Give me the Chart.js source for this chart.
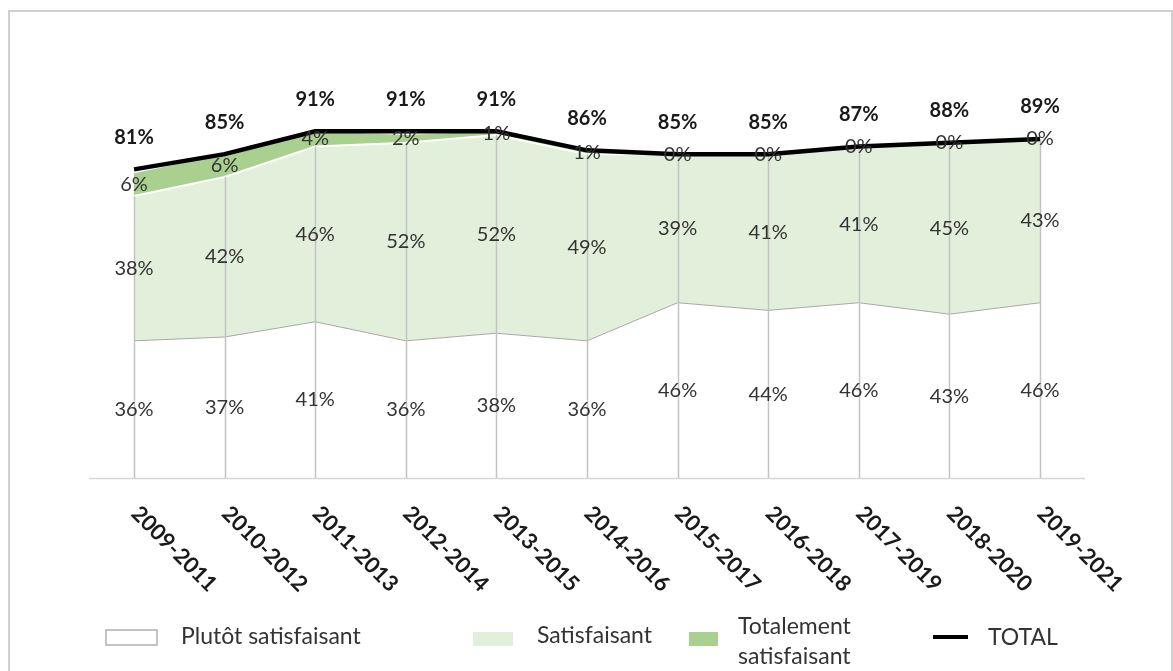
<!DOCTYPE html>
<html>
<head>
<meta charset="utf-8">
<script src="https://cdn.jsdelivr.net/npm/chart.js@4"></script>
<style>
  html, body { margin: 0; padding: 0; background: #fff; overflow: hidden; }
  canvas { display: block; }
</style>
</head>
<body>
<canvas id="satisfactionChart" width="1173" height="671"></canvas>
<script>
// Données
const periodes = ['2009-2011', '2010-2012', '2011-2013', '2012-2014', '2013-2015', '2014-2016',
                  '2015-2017', '2016-2018', '2017-2019', '2018-2020', '2019-2021'];
const plutotSatisfaisant = [36, 37, 41, 36, 38, 36, 46, 44, 46, 43, 46];
const satisfaisant = [38, 42, 46, 52, 52, 49, 39, 41, 41, 45, 43];
const totalementSatisfaisant = [6, 6, 4, 2, 1, 1, 0, 0, 0, 0, 0];
const total = [81, 85, 91, 91, 91, 86, 85, 85, 87, 88, 89];

const FONT = 'Lato, "Open Sans", sans-serif';

// lignes de rappel verticales, dessinées avant la courbe TOTAL
const dropLines = {
    id: 'dropLines',
    afterDatasetDraw(chart, args) {
        if (args.index !== 1) return;
        const ctx = chart.ctx, x = chart.scales.x, y = chart.scales.y;
        ctx.save();
        ctx.strokeStyle = '#c3c3c3';
        ctx.lineWidth = 1.5;
        periodes.forEach((p, i) => {
            const px = Math.round(x.getPixelForValue(i)) + 0.5;
            ctx.beginPath();
            ctx.moveTo(px, y.getPixelForValue(0));
            ctx.lineTo(px, y.getPixelForValue(plutotSatisfaisant[i] + satisfaisant[i]));
            ctx.stroke();
        });
        ctx.restore();
    }
};

const decor = {
    id: 'decor',
    beforeDraw(chart) {
        const ctx = chart.ctx;
        ctx.save();
        ctx.strokeStyle = '#d0d0d0';
        ctx.lineWidth = 2;
        ctx.strokeRect(9, 11, 1163, 700);
        ctx.restore();
    },
    afterDraw(chart) {
        const ctx = chart.ctx, x = chart.scales.x, y = chart.scales.y;
        ctx.save();

        // axe horizontal
        ctx.strokeStyle = '#d6d6d6';
        ctx.lineWidth = 1.5;
        ctx.beginPath();
        ctx.moveTo(89, y.getPixelForValue(0) + 0.5);
        ctx.lineTo(1085, y.getPixelForValue(0) + 0.5);
        ctx.stroke();

        // étiquettes de données
        ctx.textAlign = 'center';
        ctx.textBaseline = 'middle';
        ctx.font = '20px ' + FONT;
        ctx.fillStyle = '#333333';
        periodes.forEach((p, i) => {
            const px = x.getPixelForValue(i);
            const a = plutotSatisfaisant[i], b = satisfaisant[i], c = totalementSatisfaisant[i];
            ctx.fillText(a + '%', px, y.getPixelForValue(a / 2));
            ctx.fillText(b + '%', px, y.getPixelForValue(a + b / 2));
            ctx.fillText(c + '%', px, y.getPixelForValue(a + b + c / 2));
        });
        ctx.font = 'bold 20px ' + FONT;
        ctx.fillStyle = '#1a1a1a';
        periodes.forEach((p, i) => {
            ctx.fillText(total[i] + '%', x.getPixelForValue(i), y.getPixelForValue(total[i]) - 32);
        });

        // étiquettes de l'axe, inclinées vers le bas
        ctx.font = 'bold 22px ' + FONT;
        ctx.fillStyle = '#1a1a1a';
        ctx.textAlign = 'left';
        periodes.forEach((p, i) => {
            ctx.save();
            ctx.translate(x.getPixelForValue(i) + 1, 510);
            ctx.rotate(Math.PI / 4);
            ctx.fillText(p, 0, 0);
            ctx.restore();
        });

        // légende
        ctx.font = '23px ' + FONT;
        ctx.textBaseline = 'middle';
        ctx.strokeStyle = '#b0b0b0';
        ctx.lineWidth = 1.5;
        ctx.fillStyle = '#ffffff';
        ctx.fillRect(106, 630, 51, 15);
        ctx.strokeRect(106, 630, 51, 15);
        ctx.fillStyle = '#e2efda';
        ctx.fillRect(473, 632, 40, 14);
        ctx.fillStyle = '#a9d08e';
        ctx.fillRect(689, 632, 29, 14);
        ctx.strokeStyle = '#000';
        ctx.lineWidth = 4;
        ctx.beginPath();
        ctx.moveTo(933, 637);
        ctx.lineTo(968, 637);
        ctx.stroke();
        ctx.fillStyle = '#333333';
        ctx.fillText('Plutôt satisfaisant', 181, 637);
        ctx.fillText('Satisfaisant', 537, 636);
        ctx.fillText('Totalement', 738, 627);
        ctx.fillText('satisfaisant', 738, 657);
        ctx.fillText('TOTAL', 988, 638);
        ctx.restore();
    }
};

new Chart(document.getElementById('satisfactionChart'), {
    type: 'line',
    data: {
        labels: periodes,
        datasets: [
            {
                label: 'TOTAL',
                data: total,
                stack: 'total',
                borderColor: '#000000',
                borderWidth: 4.5,
                fill: false,
                pointRadius: 0,
                tension: 0
            },
            {
                label: 'Plutôt satisfaisant',
                data: plutotSatisfaisant,
                stack: 'parts',
                borderColor: '#a8a8a8',
                borderWidth: 1,
                backgroundColor: '#ffffff',
                fill: 'origin',
                pointRadius: 0,
                tension: 0
            },
            {
                label: 'Satisfaisant',
                data: satisfaisant,
                stack: 'parts',
                borderColor: '#ffffff',
                borderWidth: 2,
                backgroundColor: '#e2efda',
                fill: '-1',
                pointRadius: 0,
                tension: 0
            },
            {
                label: 'Totalement satisfaisant',
                data: totalementSatisfaisant,
                stack: 'parts',
                borderWidth: 0,
                borderColor: 'rgba(0,0,0,0)',
                backgroundColor: '#a9d08e',
                fill: '-1',
                pointRadius: 0,
                tension: 0
            }
        ]
    },
    options: {
        responsive: false,
        animation: false,
        layout: {
            padding: { left: 134, right: 133, top: 97, bottom: 193 }
        },
        plugins: {
            legend: { display: false },
            tooltip: { enabled: false }
        },
        scales: {
            x: { display: false, offset: false },
            y: { display: false, stacked: true, min: 0, max: 100 }
        }
    },
    plugins: [dropLines, decor]
});
</script>
</body>
</html>
